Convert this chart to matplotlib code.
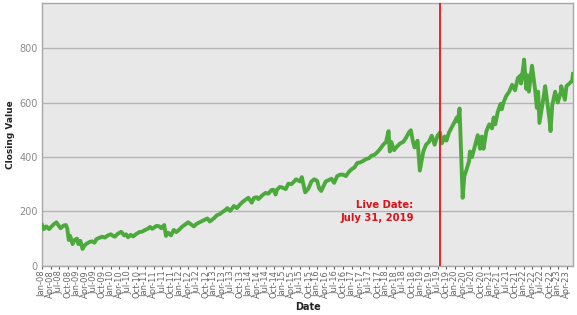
import matplotlib
matplotlib.use("Agg")
import matplotlib.pyplot as plt
import matplotlib.dates as mdates
import pandas as pd

dates = [
    "2008-01-01", "2008-01-20", "2008-02-15", "2008-03-15", "2008-05-01", "2008-06-01",
    "2008-06-20", "2008-07-15", "2008-08-15", "2008-09-10", "2008-09-25", "2008-10-10",
    "2008-10-25", "2008-11-20", "2008-12-10", "2009-01-05", "2009-01-20", "2009-02-10",
    "2009-03-05", "2009-03-25", "2009-04-20", "2009-05-20", "2009-06-15", "2009-07-10",
    "2009-07-30", "2009-08-30", "2009-09-30", "2009-10-30", "2009-11-30", "2009-12-30",
    "2010-01-25", "2010-02-10", "2010-03-15", "2010-04-20", "2010-05-20", "2010-06-10",
    "2010-07-01", "2010-07-30", "2010-08-25", "2010-09-30", "2010-10-30", "2010-11-30",
    "2010-12-30", "2011-01-30", "2011-02-20", "2011-03-15", "2011-04-30", "2011-05-30",
    "2011-06-20", "2011-07-20", "2011-08-08", "2011-08-30", "2011-09-30", "2011-10-30",
    "2011-11-25", "2011-12-30", "2012-01-30", "2012-02-28", "2012-03-30", "2012-05-30",
    "2012-06-30", "2012-07-30", "2012-08-30", "2012-09-30", "2012-10-20", "2012-11-15",
    "2012-12-30", "2013-01-30", "2013-02-28", "2013-03-30", "2013-04-30", "2013-05-20",
    "2013-06-20", "2013-07-30", "2013-08-30", "2013-09-30", "2013-10-30", "2013-11-30",
    "2013-12-30", "2014-02-03", "2014-02-28", "2014-03-30", "2014-04-15", "2014-05-30",
    "2014-06-30", "2014-07-30", "2014-08-30", "2014-09-20", "2014-10-15", "2014-10-30",
    "2014-11-30", "2014-12-30", "2015-01-30", "2015-02-28", "2015-03-30", "2015-04-30",
    "2015-05-20", "2015-06-30", "2015-07-20", "2015-08-25", "2015-09-30", "2015-10-30",
    "2015-11-30", "2015-12-30", "2016-01-20", "2016-02-11", "2016-03-30", "2016-04-30",
    "2016-05-30", "2016-06-27", "2016-07-30", "2016-08-30", "2016-09-30", "2016-10-30",
    "2016-11-30", "2016-12-30", "2017-01-30", "2017-02-28", "2017-03-30", "2017-04-30",
    "2017-05-30", "2017-06-30", "2017-07-30", "2017-08-30", "2017-09-30", "2017-10-30",
    "2017-11-30", "2017-12-30", "2018-01-26", "2018-02-08", "2018-02-25", "2018-03-25",
    "2018-04-30", "2018-05-30", "2018-06-30", "2018-07-30", "2018-08-30", "2018-09-20",
    "2018-10-10", "2018-10-29", "2018-11-30", "2018-12-24", "2019-01-30", "2019-02-28",
    "2019-03-30", "2019-04-30", "2019-05-30", "2019-06-30", "2019-07-26", "2019-08-15",
    "2019-09-15", "2019-10-03", "2019-10-30", "2019-11-30", "2019-12-30", "2020-01-20",
    "2020-01-31", "2020-02-19", "2020-03-23", "2020-04-10", "2020-04-30", "2020-05-30",
    "2020-06-08", "2020-06-30", "2020-07-30", "2020-08-30", "2020-09-23", "2020-10-12",
    "2020-10-30", "2020-11-30", "2020-12-30", "2021-01-29", "2021-02-15", "2021-03-04",
    "2021-03-30", "2021-04-30", "2021-05-12", "2021-05-30", "2021-06-30", "2021-07-30",
    "2021-08-30", "2021-09-30", "2021-10-30", "2021-11-30", "2021-12-03", "2021-12-30",
    "2022-01-04", "2022-01-27", "2022-02-10", "2022-02-24", "2022-03-29", "2022-04-30",
    "2022-05-20", "2022-06-02", "2022-06-16", "2022-07-30", "2022-08-16", "2022-09-30",
    "2022-10-12", "2022-10-30", "2022-11-30", "2022-12-28", "2023-01-30", "2023-02-02",
    "2023-03-13", "2023-03-30", "2023-04-30", "2023-05-30", "2023-06-07",
]
values = [
    150, 135, 145, 135, 152, 160,
    150, 138, 148, 150, 135, 95,
    110, 80, 95, 100, 80, 92,
    62, 75, 82, 88, 90, 85,
    98, 103, 107, 104, 112, 116,
    110, 107, 118, 125, 112, 116,
    105, 114, 108, 118, 124, 126,
    132, 137, 143, 136, 147, 145,
    138, 150, 110, 122, 112, 132,
    124, 134, 145, 152, 160, 145,
    155, 160, 165, 170, 174, 163,
    175, 186, 190, 198, 205, 212,
    202, 220, 212, 225, 235, 243,
    250, 232, 250, 252, 245, 260,
    268, 265, 278, 280, 262, 280,
    290, 287, 282, 302, 300, 310,
    318, 310, 326, 270, 285, 310,
    318, 312, 285, 275, 310, 315,
    320, 305, 330, 335, 335, 330,
    345, 355, 362, 378, 380, 385,
    392, 395, 405, 408, 418, 430,
    445, 455, 495, 420, 455, 425,
    440, 450, 455, 470, 490, 498,
    460, 435, 460, 350, 420, 445,
    455, 478, 445, 478, 490, 450,
    475, 460, 490, 510, 530, 545,
    530, 578, 250, 330, 350, 385,
    420, 400, 440, 480, 430, 475,
    430, 495, 520, 505, 545, 520,
    565, 595, 575, 600, 625, 640,
    665, 645, 690, 700, 670, 740,
    758, 650, 700, 640, 735, 650,
    580, 640, 525, 620, 660, 540,
    495, 590, 640, 600, 640, 660,
    610, 660, 670, 680, 705,
]
live_date = "2019-07-31"
live_label = "Live Date:\nJuly 31, 2019"
y_ticks = [0, 200, 400, 600, 800]

x = pd.to_datetime(dates)

fig = plt.figure(figsize=(5.77, 3.15), dpi=100)
ax = fig.add_axes([0.073, 0.156, 0.920, 0.834])
ax.set_facecolor("#e8e8e8")

ax.plot(x, values, color="#4caa3c", linewidth=2.8, solid_joinstyle="round", zorder=3)
ax.axvline(pd.Timestamp(live_date), color="#e3161e", linewidth=1.3, zorder=4)
ax.text(pd.Timestamp("2018-10-20"), 243, live_label, color="#d8131b", fontsize=7.2,
        fontweight="bold", ha="right", va="top", linespacing=1.4, zorder=5)

ax.set_xlim(pd.Timestamp("2008-01-01"), pd.Timestamp("2023-06-07"))
ax.set_ylim(0, 965)
ax.set_yticks(y_ticks)
ax.yaxis.grid(True, color="#b5b5b5", linewidth=1.0)
ax.set_axisbelow(True)

ax.xaxis.set_major_locator(mdates.MonthLocator(bymonth=[1, 4, 7, 10]))
ax.xaxis.set_major_formatter(mdates.DateFormatter("%b-%y"))
for lab in ax.get_xticklabels():
    lab.set_rotation(90)
ax.tick_params(axis="x", labelsize=6, colors="#555555", length=2, pad=1, labelcolor="#666666")
ax.tick_params(axis="y", labelsize=7, length=0, pad=3, labelcolor="#8a8a8a")

for s in ax.spines.values():
    s.set_color("#a8a8a8")
    s.set_linewidth(1.0)

ax.set_xlabel("Date", fontsize=7, fontweight="bold", color="#222222", labelpad=3)
ax.set_ylabel("Closing Value", fontsize=6.5, fontweight="bold", color="#222222", labelpad=3)

fig.savefig("out.png", dpi=100, facecolor="white")
